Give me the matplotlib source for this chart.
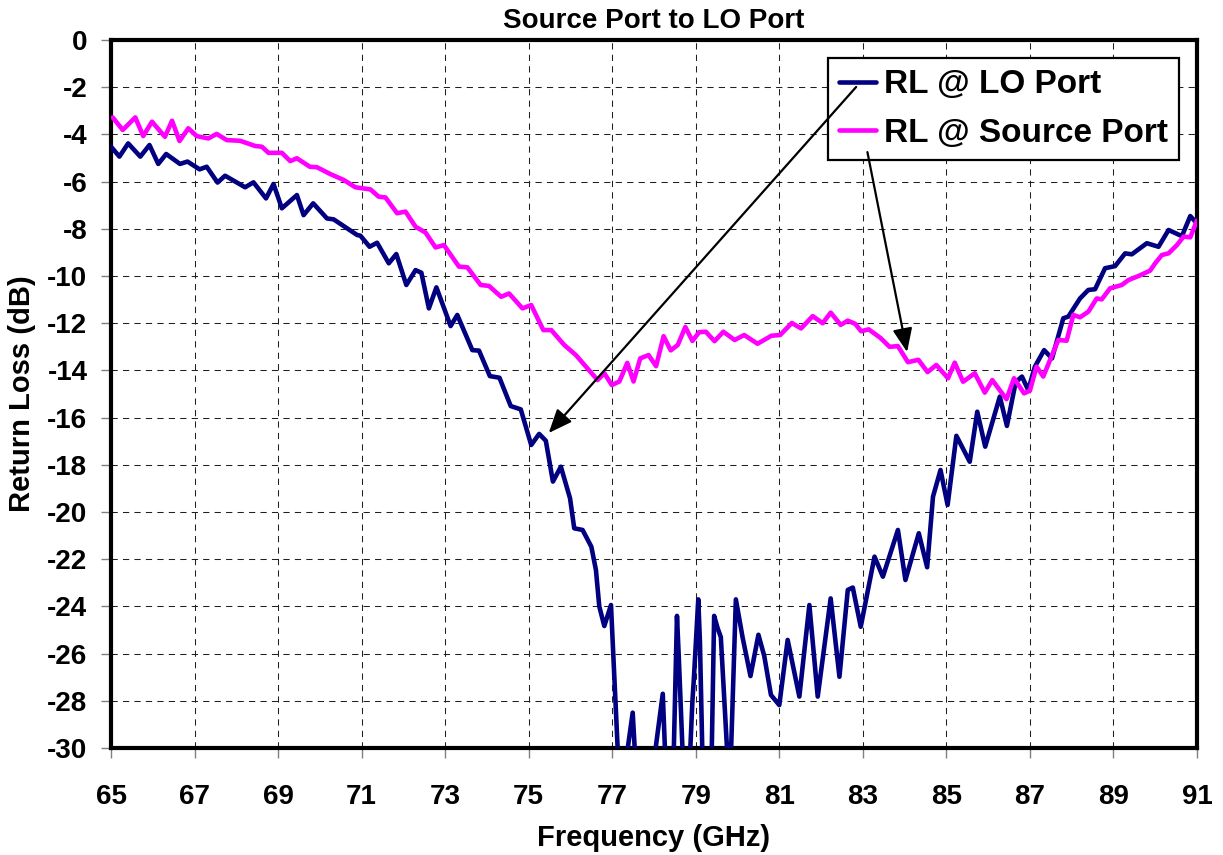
import matplotlib
matplotlib.use("Agg")
import matplotlib.pyplot as plt

plt.rcParams['font.family'] = ['Liberation Sans', 'DejaVu Sans']
plt.rcParams['font.weight'] = 'bold'
plt.rcParams['axes.unicode_minus'] = False

title = "Source Port to LO Port"
xlabel = "Frequency (GHz)"
ylabel = "Return Loss (dB)"
series_names = ["RL @ LO Port", "RL @ Source Port"]
x_ticks = list(range(65, 92, 2))
y_ticks = list(range(-30, 1, 2))

lo_freq = [65.00, 65.20, 65.41, 65.70, 65.92, 66.13, 66.32, 66.65, 66.83, 67.12,
           67.29, 67.55, 67.73, 68.21, 68.41, 68.71, 68.89, 69.09, 69.45, 69.61,
           69.84, 70.17, 70.33, 70.89, 70.97, 71.19, 71.37, 71.65, 71.83, 72.07,
           72.29, 72.43, 72.61, 72.79, 73.13, 73.29, 73.65, 73.81, 74.07, 74.30,
           74.57, 74.81, 75.06, 75.25, 75.41, 75.58, 75.77, 75.99, 76.09, 76.29,
           76.50, 76.61, 76.69, 76.81, 76.97, 77.14, 77.34, 77.49, 77.55, 78.01,
           78.21, 78.27, 78.47, 78.55, 78.59, 78.69, 78.86, 78.92, 78.95, 79.06,
           79.10, 79.16, 79.38, 79.44, 79.52, 79.60, 79.76, 79.84, 79.96, 80.12,
           80.31, 80.50, 80.64, 80.80, 81.00, 81.20, 81.48, 81.72, 81.92, 82.23,
           82.44, 82.64, 82.76, 82.95, 83.28, 83.48, 83.84, 84.02, 84.34, 84.54,
           84.68, 84.86, 85.03, 85.24, 85.56, 85.74, 85.93, 86.28, 86.45, 86.66,
           86.81, 86.96, 87.12, 87.34, 87.53, 87.80, 87.92, 88.20, 88.40, 88.56,
           88.80, 89.04, 89.28, 89.44, 89.80, 90.08, 90.32, 90.64, 90.84, 91.00]
lo_db = [-4.52, -4.94, -4.38, -4.94, -4.45, -5.25, -4.83, -5.25, -5.15, -5.48,
         -5.37, -6.04, -5.75, -6.24, -6.03, -6.71, -6.10, -7.13, -6.57, -7.42,
         -6.92, -7.56, -7.60, -8.26, -8.29, -8.76, -8.59, -9.46, -9.07, -10.38,
         -9.75, -9.86, -11.37, -10.48, -12.12, -11.65, -13.14, -13.16, -14.24, -14.31,
         -15.51, -15.65, -17.16, -16.69, -16.98, -18.71, -18.08, -19.42, -20.69, -20.76,
         -21.47, -22.46, -24.00, -24.83, -23.94, -30.4, -30.4, -28.5, -30.4, -30.4,
         -27.7, -30.4, -30.4, -24.4, -26.0, -30.4, -30.4, -28.0, -27.2, -23.7,
         -25.5, -30.4, -30.4, -24.4, -24.9, -25.3, -30.4, -30.4, -23.7, -25.3,
         -26.95, -25.2, -26.1, -27.75, -28.18, -25.42, -27.82, -23.94, -27.82, -23.66,
         -26.98, -23.3, -23.2, -24.86, -21.89, -22.74, -20.76, -22.88, -20.90, -22.34,
         -19.35, -18.22, -19.70, -16.77, -17.87, -15.75, -17.23, -15.11, -16.35, -14.5,
         -14.26, -14.83, -13.84, -13.14, -13.49, -11.79, -11.72, -10.95, -10.59, -10.56,
         -9.67, -9.58, -9.04, -9.08, -8.61, -8.76, -8.05, -8.31, -7.46, -7.77]

src_freq = [65.04, 65.28, 65.58, 65.77, 65.98, 66.29, 66.46, 66.64, 66.85, 67.05,
            67.33, 67.53, 67.77, 68.09, 68.45, 68.61, 68.77, 69.09, 69.29, 69.45,
            69.76, 69.93, 70.25, 70.57, 70.85, 71.21, 71.41, 71.57, 71.85, 72.05,
            72.29, 72.53, 72.77, 72.97, 73.33, 73.53, 73.85, 74.05, 74.34, 74.53,
            74.85, 75.06, 75.35, 75.54, 75.85, 76.13, 76.37, 76.65, 76.81, 76.99,
            77.17, 77.36, 77.51, 77.67, 77.87, 78.05, 78.23, 78.40, 78.57, 78.75,
            78.92, 79.08, 79.24, 79.45, 79.66, 79.93, 80.16, 80.48, 80.81, 81.02,
            81.30, 81.52, 81.80, 82.04, 82.23, 82.47, 82.64, 82.82, 82.96, 83.14,
            83.42, 83.64, 83.84, 84.08, 84.33, 84.55, 84.76, 85.04, 85.20, 85.40,
            85.68, 85.92, 86.10, 86.44, 86.62, 86.86, 87.00, 87.16, 87.32, 87.68,
            87.88, 88.04, 88.20, 88.40, 88.60, 88.72, 88.92, 89.20, 89.36, 89.60,
            89.88, 90.00, 90.16, 90.32, 90.52, 90.68, 90.84, 91.00]
src_db = [-3.28, -3.81, -3.28, -4.07, -3.46, -4.10, -3.42, -4.28, -3.74, -4.07,
          -4.17, -3.98, -4.24, -4.27, -4.49, -4.52, -4.78, -4.78, -5.13, -5.01,
          -5.37, -5.39, -5.68, -5.93, -6.24, -6.33, -6.64, -6.67, -7.34, -7.27,
          -7.91, -8.16, -8.79, -8.69, -9.60, -9.63, -10.38, -10.42, -10.88, -10.74,
          -11.37, -11.23, -12.29, -12.29, -12.92, -13.35, -13.84, -14.41, -14.12, -14.62,
          -14.47, -13.68, -14.47, -13.49, -13.35, -13.82, -12.55, -13.15, -12.92, -12.16,
          -12.75, -12.38, -12.36, -12.76, -12.36, -12.71, -12.50, -12.87, -12.53, -12.50,
          -11.99, -12.22, -11.70, -12.00, -11.55, -12.07, -11.89, -12.03, -12.34, -12.26,
          -12.62, -13.00, -12.97, -13.65, -13.55, -14.07, -13.77, -14.33, -13.67, -14.48,
          -14.12, -14.94, -14.41, -15.22, -14.33, -14.97, -14.86, -13.84, -14.26, -12.71,
          -12.74, -11.65, -11.75, -11.51, -10.95, -10.99, -10.52, -10.38, -10.17, -10.00,
          -9.77, -9.46, -9.11, -9.04, -8.69, -8.33, -8.36, -7.65]

# arrow anchor points (data coords): (tail, head)
arrow_lo = ((82.84, -1.99), (75.48, -16.65))
arrow_src = ((83.11, -4.75), (84.06, -13.22))

fig = plt.figure(figsize=(12.23, 8.55), dpi=100)
ax = fig.add_axes([0.0908, 0.1251, 0.8879, 0.8281])

ax.plot(lo_freq, lo_db, color='#000080', lw=3.3, solid_joinstyle='round',
        solid_capstyle='round', label=series_names[0], zorder=3)
ax.plot(src_freq, src_db, color='#FF00FF', lw=3.3, solid_joinstyle='round',
        solid_capstyle='round', label=series_names[1], zorder=3)

ax.set_xlim(65, 91)
ax.set_ylim(-30, 0)
ax.set_xticks(x_ticks)
ax.set_yticks(y_ticks)
ax.set_axisbelow(True)
ax.grid(True, color='#202020', linestyle=(0, (6, 5)), linewidth=0.75)

for s in ax.spines.values():
    s.set_linewidth(3)
    s.set_color('black')

ax.tick_params(axis='both', direction='out', length=7, width=1, color='#808080',
               labelsize=20)
ax.tick_params(axis='x', pad=19)
ax.tick_params(axis='y', pad=10)
for lab in ax.get_xticklabels() + ax.get_yticklabels():
    lab.set_fontweight('bold')

ax.set_title(title, fontsize=20, fontweight='bold', pad=9)
ax.set_xlabel(xlabel, fontsize=21, fontweight='bold', labelpad=10)
ax.set_ylabel(ylabel, fontsize=21, fontweight='bold', labelpad=8)

leg = ax.legend(loc='upper right', bbox_to_anchor=(0.9834, 0.974), borderaxespad=0,
                handlelength=1.1, handletextpad=0.25, labelspacing=0.52,
                borderpad=0.33, fancybox=False, framealpha=1, edgecolor='black',
                prop={'weight': 'bold', 'size': 24})
leg.get_frame().set_linewidth(1.6)
leg.set_zorder(5)

for (tail, head) in (arrow_lo, arrow_src):
    ax.annotate('', xy=head, xytext=tail,
                arrowprops=dict(arrowstyle='-|>,head_length=0.6,head_width=0.25',
                                color='black', lw=1.6, mutation_scale=24,
                                shrinkA=0, shrinkB=0),
                zorder=6)

fig.savefig('out.png', dpi=100)
